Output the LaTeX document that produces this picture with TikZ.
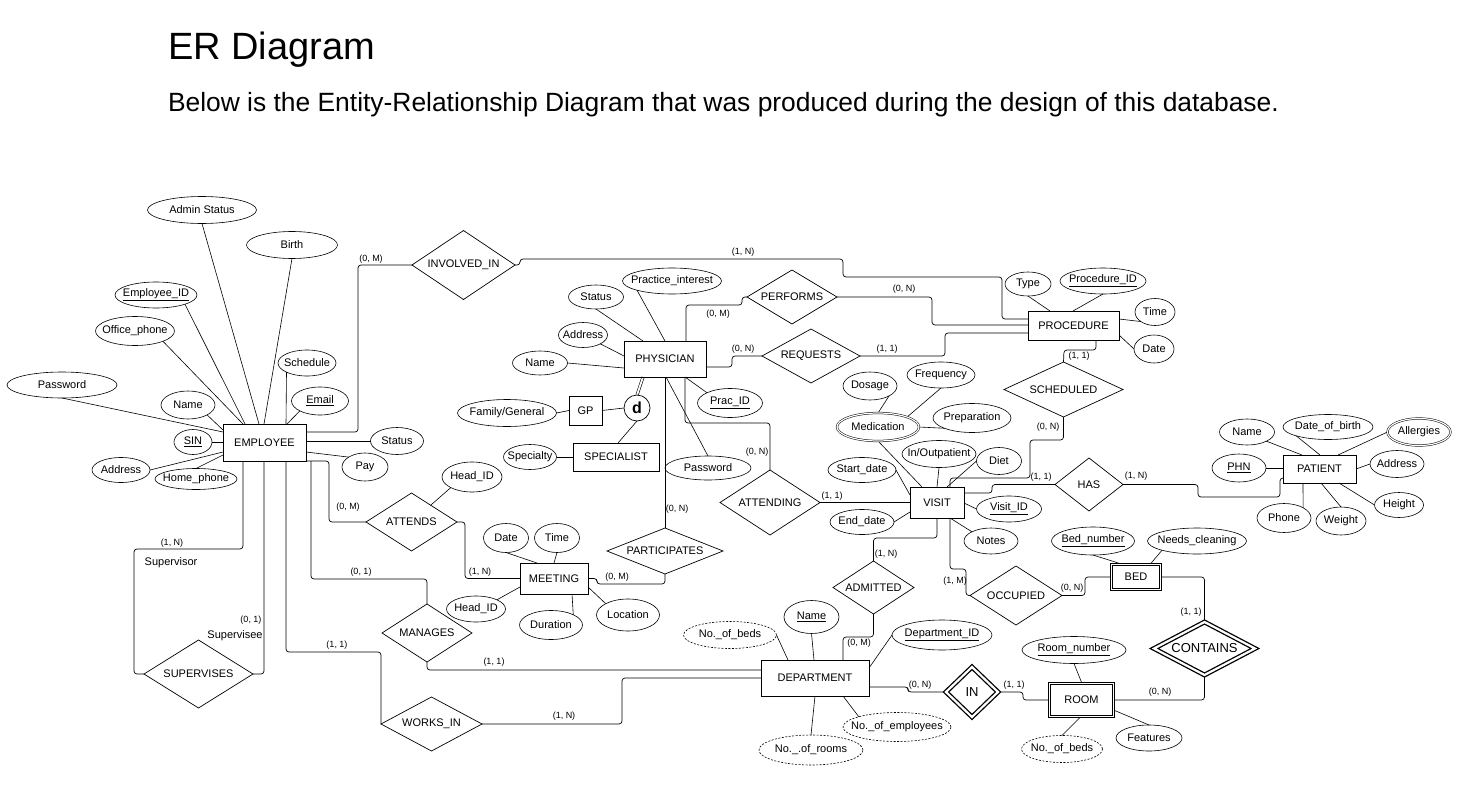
\documentclass[tikz,border=0pt]{standalone}
\usepackage{fontspec}
\setmainfont{Liberation Sans}
\usetikzlibrary{shapes.geometric,backgrounds}

\newcommand{\labelfont}{\fontsize{11}{13}\selectfont}
\newcommand{\cardfont}{\fontsize{9}{11}\selectfont}
\newcommand{\bigfont}{\fontsize{13}{15}\selectfont}
\tikzset{wh/.style 2 args={minimum width=#1,minimum height=#2}}

\begin{document}
\begin{tikzpicture}[x=1pt, y=-1pt, every node/.style={outer sep=0pt}]
    \tikzstyle entity=[draw, line width=0.8pt, inner sep=1pt, font=\labelfont]
    \tikzstyle weakentity=[draw, line width=1pt, double, double distance=1.5pt, inner sep=1pt, font=\labelfont]
    \tikzstyle attribute=[ellipse, draw, line width=0.6pt, inner sep=0pt, font=\labelfont,
      execute at begin node={\hbox to 0pt\bgroup\hss}, execute at end node={\hss\egroup}]
    \tikzstyle multivalued=[attribute, double, double distance=1.2pt, line width=0.5pt]
    \tikzstyle derived=[attribute, dash pattern=on 2pt off 1.5pt]
    \tikzstyle relationship=[diamond, draw, line width=0.7pt, inner sep=0pt, shape aspect=2.4, font=\labelfont]
    \tikzstyle identifying=[relationship, double, double distance=2.2pt, line width=1.3pt, font=\bigfont]
    \tikzstyle conn=[line width=0.7pt, rounded corners=3pt]
    \tikzstyle attrline=[line width=0.6pt]
    \tikzstyle card=[inner sep=0pt, font=\cardfont]
    \tikzstyle role=[inner sep=0pt, font=\labelfont]

    \useasboundingbox (0,0) rectangle (1460,800);

    \node[anchor=base west, inner sep=0pt, font=\fontsize{38}{44}\selectfont] (title) at (168,60) {ER Diagram};
    \node[anchor=base west, inner sep=0pt, font=\fontsize{26.4}{30}\selectfont] (subtitle) at (168,111)
      {Below is the Entity-Relationship Diagram that was produced during the design of this database.};

    % entities
    \node[entity, wh={83}{37}] (employee) at (264.5,442.5) {EMPLOYEE};
    \node[entity, wh={82}{36}] (physician) at (665,359) {PHYSICIAN};
    \node[entity, wh={91}{29}] (procedure) at (1073.5,325.5) {PROCEDURE};
    \node[entity, wh={54}{31}] (visit) at (937,502.5) {VISIT};
    \node[entity, wh={73}{28}] (patient) at (1319.5,469) {PATIENT};
    \node[entity, wh={68}{31}] (meeting) at (554,578.5) {MEETING};
    \node[entity, wh={108}{36}] (department) at (815,678) {DEPARTMENT};
    \node[entity, wh={33}{29}] (gp) at (585.5,410.5) {GP};
    \node[entity, wh={86}{28}] (specialist) at (616,457) {SPECIALIST};
    \node[weakentity, wh={49}{25}] (bed) at (1136,577) {BED};
    \node[weakentity, wh={64}{33}] (room) at (1081.5,700) {ROOM};
    \node[circle, draw, line width=0.7pt, minimum size=26, inner sep=0pt,
      font=\bfseries\fontsize{16}{18}\selectfont] (disj) at (637,408) {d};

    % relationships
    \node[relationship, wh={103}{69}] (involved) at (463.5,265) {INVOLVED\_IN};
    \node[relationship, wh={90}{54}] (performs) at (792,297) {PERFORMS};
    \node[relationship, wh={98}{54}] (requests) at (811,356) {REQUESTS};
    \node[relationship, wh={119}{55}] (scheduled) at (1063.5,389.5) {SCHEDULED};
    \node[relationship, wh={100}{65}] (attending) at (770,502.5) {ATTENDING};
    \node[relationship, wh={68}{53}] (has) at (1089,484.5) {HAS};
    \node[relationship, wh={91}{58}] (attends) at (411.5,522) {ATTENDS};
    \node[relationship, wh={116}{46}] (participates) at (665,551) {PARTICIPATES};
    \node[relationship, wh={90}{58}] (manages) at (427,633) {MANAGES};
    \node[relationship, wh={101}{54}] (works) at (431.5,724) {WORKS\_IN};
    \node[relationship, wh={109}{68}] (supervises) at (198.5,674) {SUPERVISES};
    \node[relationship, wh={81}{53}] (admitted) at (873.5,587.5) {ADMITTED};
    \node[relationship, wh={92}{59}] (occupied) at (1016,595.5) {OCCUPIED};
    \node[identifying, wh={52}{50}] (inroom) at (972,692) {IN};
    \node[identifying, wh={101}{53}] (contains) at (1204.5,648.5) {CONTAINS};

    % employee attributes
    \node[attribute, wh={109}{27}] (admin) at (202,210) {Admin Status};
    \node[attribute, wh={91}{27}] (birth) at (292,245) {Birth};
    \node[attribute, wh={82}{26}] (empid) at (156,295) {\underline{Employee\_ID}};
    \node[attribute, wh={79}{29}] (officephone) at (135,331) {Office\_phone};
    \node[attribute, wh={58}{26}] (schedule) at (307,363) {Schedule};
    \node[attribute, wh={110}{26}] (password) at (62,385) {Password};
    \node[attribute, wh={54}{28}] (ename) at (188,405) {Name};
    \node[attribute, wh={57}{28}] (email) at (320,401) {\underline{Email}};
    \node[attribute, wh={38}{25}] (sin) at (193,442) {\underline{SIN}};
    \node[attribute, wh={58}{25}] (eaddress) at (121,470) {Address};
    \node[attribute, wh={82}{21}] (homephone) at (196,479) {Home\_phone};
    \node[attribute, wh={53}{27}] (estatus) at (397,441) {Status};
    \node[attribute, wh={46}{28}] (pay) at (365,467) {Pay};

    % physician attributes
    \node[attribute, wh={99}{26}] (practice) at (672,281) {Practice\_interest};
    \node[attribute, wh={55}{24}] (pstatus) at (596,297) {Status};
    \node[attribute, wh={49}{25}] (paddress) at (583,335) {Address};
    \node[attribute, wh={55}{24}] (pname) at (540,363) {Name};
    \node[attribute, wh={65}{29}] (pracid) at (730,403) {\underline{Prac\_ID}};
    \node[attribute, wh={86}{24}] (ppassword) at (708,468) {Password};
    \node[attribute, wh={99}{27}] (famgen) at (507,413) {Family/General};
    \node[attribute, wh={53}{25}] (specialty) at (530,457) {Specialty};

    % procedure attributes
    \node[attribute, wh={46}{24}] (ptype) at (1028,284) {Type};
    \node[attribute, wh={86}{26}] (procid) at (1103,281) {\underline{Procedure\_ID}};
    \node[attribute, wh={40}{27}] (ptime) at (1155,312) {Time};
    \node[attribute, wh={40}{28}] (pdate) at (1154,349) {Date};

    % visit attributes
    \node[multivalued, wh={82}{28}] (medication) at (878,427) {Medication};
    \node[attribute, wh={54}{28}] (dosage) at (870,386) {Dosage};
    \node[attribute, wh={68}{26}] (frequency) at (941,375) {Frequency};
    \node[attribute, wh={78}{29}] (preparation) at (972,418) {Preparation};
    \node[attribute, wh={74}{27}] (inout) at (939,454) {In/Outpatient};
    \node[attribute, wh={45}{27}] (diet) at (999,461) {Diet};
    \node[attribute, wh={68}{25}] (startdate) at (862,470) {Start\_date};
    \node[attribute, wh={64}{25}] (enddate) at (862,522) {End\_date};
    \node[attribute, wh={65}{26}] (visitid) at (1009,509) {\underline{Visit\_ID}};
    \node[attribute, wh={54}{26}] (notes) at (991,541) {Notes};

    % meeting attributes
    \node[attribute, wh={60}{30}] (ahead) at (472,477) {Head\_ID};
    \node[attribute, wh={45}{29}] (mdate) at (506,538) {Date};
    \node[attribute, wh={45}{29}] (mtime) at (557,538) {Time};
    \node[attribute, wh={59}{26}] (mhead) at (476,609) {Head\_ID};
    \node[attribute, wh={63}{29}] (duration) at (551,625) {Duration};
    \node[attribute, wh={63}{32}] (location) at (628,615) {Location};

    % department attributes
    \node[attribute, wh={55}{33}] (dname) at (811.5,617) {\underline{Name}};
    \node[derived, wh={93}{27}] (dbeds) at (730,635) {No.\_of\_beds};
    \node[attribute, wh={100}{30}] (deptid) at (942,635) {\underline{Department\_ID}};
    \node[derived, wh={108}{29}] (demployees) at (897,727) {No.\_of\_employees};
    \node[derived, wh={104}{30}] (drooms) at (811,750) {No.\_.of\_rooms};

    % bed and room attributes
    \node[attribute, wh={83}{28}] (bednum) at (1093,541) {\underline{Bed\_number}};
    \node[attribute, wh={99}{26}] (needsclean) at (1197,541) {Needs\_cleaning};
    \node[attribute, wh={104}{27}] (roomnum) at (1074,650) {\underline{Room\_number}};
    \node[derived, wh={81}{27}] (rbeds) at (1062,749) {No.\_of\_beds};
    \node[attribute, wh={66}{26}] (features) at (1149,738) {Features};

    % patient attributes
    \node[attribute, wh={55}{26}] (ptname) at (1247,432) {Name};
    \node[attribute, wh={90}{25}] (dob) at (1328,427) {Date\_of\_birth};
    \node[multivalued, wh={63}{27}] (allergies) at (1419,432) {Allergies};
    \node[attribute, wh={54}{28}] (phn) at (1239,468) {\underline{PHN}};
    \node[attribute, wh={54}{27}] (ptaddress) at (1397,464) {Address};
    \node[attribute, wh={54}{29}] (phone) at (1284,518) {Phone};
    \node[attribute, wh={50}{28}] (weight) at (1341,521) {Weight};
    \node[attribute, wh={49}{25}] (height) at (1399,505) {Height};

    % cardinalities
    \node[card] (c1) at (371,259) {(0, M)};
    \node[card] (c2) at (743,252) {(1, N)};
    \node[card] (c3) at (718,314) {(0, M)};
    \node[card] (c4) at (904,289) {(0, N)};
    \node[card] (c5) at (743,349) {(0, N)};
    \node[card] (c6) at (887,349) {(1, 1)};
    \node[card] (c7) at (1079,356) {(1, 1)};
    \node[card] (c8) at (1048,427) {(0, N)};
    \node[card] (c9) at (757,452) {(0, N)};
    \node[card] (c10) at (832,496) {(1, 1)};
    \node[card] (c11) at (677,509) {(0, N)};
    \node[card] (c12) at (617,577) {(0, M)};
    \node[card] (c13) at (480,572) {(1, N)};
    \node[card] (c14) at (348,507) {(0, M)};
    \node[card] (c15) at (361,572) {(0, 1)};
    \node[card] (c16) at (494,662) {(1, 1)};
    \node[card] (c17) at (337,645) {(1, 1)};
    \node[card] (c18) at (564,716) {(1, N)};
    \node[card] (c19) at (172,543) {(1, N)};
    \node[card] (c20) at (251,620) {(0, 1)};
    \node[card] (c21) at (1041,477) {(1, 1)};
    \node[card] (c22) at (1136,476) {(1, N)};
    \node[card] (c23) at (886,554) {(1, N)};
    \node[card] (c24) at (859,643) {(0, M)};
    \node[card] (c25) at (955,581) {(1, M)};
    \node[card] (c26) at (1072,588) {(0, N)};
    \node[card] (c27) at (1191,612) {(1, 1)};
    \node[card] (c28) at (1160,692) {(0, N)};
    \node[card] (c29) at (920,685) {(0, N)};
    \node[card] (c30) at (1014,685) {(1, 1)};
    \node[role] (supervisor) at (171,563) {Supervisor};
    \node[role] (supervisee) at (235,636) {Supervisee};

    \begin{pgfonlayer}{background}
    \fill[white] (0,0) rectangle (1460,800);
    % relationship connectors
    \draw[conn] (employee.east |- 0,432) -- (358,432) -- (358,265) -- (involved.west);
    \draw[conn] (involved.east) -- (520,265) -- (520,259) -- (843,259) -- (843,277) -- (1002,277) -- (1002,319) -- (procedure.west |- 0,319);
    \draw[conn] (employee.south east) -- (329,461) -- (329,522) -- (attends.west);
    \draw[conn] (employee.south -| 311,0) -- (311,579) -- (427,579) -- (manages.north);
    \draw[conn] (employee.south -| 286,0) -- (286,652) -- (381,652) -- (works.west);
    \draw[conn] (employee.south -| 243,0) -- (243,549) -- (134,549) -- (134,674) -- (supervises.west);
    \draw[conn] (employee.south -| 264,0) -- (264,674) -- (supervises.east);
    \draw[conn] (physician.north -| 686,0) -- (686,305) -- (742,305) -- (742,297) -- (performs.west);
    \draw[conn] (performs.east) -- (932,297) -- (932,325) -- (procedure.west |- 0,325);
    \draw[conn] (physician.east |- 0,367) -- (732,367) -- (732,356) -- (requests.west);
    \draw[conn] (requests.east) -- (945,356) -- (945,333) -- (procedure.west |- 0,333);
    \draw[conn] (procedure.south -| 1096,0) -- (1096,350) -- (1064,350) -- (scheduled.north);
    \draw[conn] (scheduled.south) -- (1063.5,440) -- (1030,440) -- (1030,478) -- (950,478) -- (visit.north -| 950,0);
    \draw[conn] (physician.south -| 685,0) -- (685,423) -- (770,423) -- (attending.north);
    \draw[conn] (physician.south) -- (participates.north);
    \draw[conn] (attending.east) -- (visit.west);
    \draw[conn] (attends.east) -- (465,522) -- (465,578.5) -- (meeting.west);
    \draw[conn] (meeting.east) -- (597,578.5) -- (597,584) -- (665,584) -- (participates.south);
    \draw[conn] (manages.south) -- (427,670) -- (department.west |- 0,670);
    \draw[conn] (works.east) -- (622,724) -- (622,678) -- (department.west);
    \draw[conn] (visit.east |- 0,493) -- (992,493) -- (992,484.5) -- (has.west);
    \draw[conn] (has.east) -- (1198,484.5) -- (1198,497) -- (1280,497) -- (1280,478) -- (patient.west |- 0,478);
    \draw[conn] (visit.south) -- (937,538) -- (873.5,538) -- (admitted.north);
    \draw[conn] (admitted.south) -- (873.5,637) -- (843,637) -- (department.north -| 843,0);
    \draw[conn] (visit.south -| 950,0) -- (950,569) -- (966,569) -- (966,595.5) -- (occupied.west);
    \draw[conn] (occupied.east) -- (1085,595.5) -- (1085,577) -- (bed.west);
    \draw[conn] (bed.east) -- (1204.5,577) -- (contains.north);
    \draw[conn] (contains.south) -- (1204.5,700) -- (room.east);
    \draw[conn] (department.east |- 0,687) -- (908,687) -- (908,692) -- (inroom.west);
    \draw[conn] (inroom.east) -- (1023,692) -- (1023,700) -- (room.west);

    % attribute lines
    \draw[attrline] (admin.south) -- (employee.north -| 259,0);
    \draw[attrline] (birth.south) -- (employee.north -| 264,0);
    \draw[attrline] (empid.south east) -- (employee.north -| 245,0);
    \draw[attrline] (officephone.south east) -- (employee.north -| 243,0);
    \draw[attrline] (schedule.south west) -- (employee.north -| 286,0);
    \draw[attrline] (password.south) -- (employee.west |- 0,432);
    \draw[attrline] (ename.south east) -- (employee.west |- 0,430);
    \draw[attrline] (email.south west) -- (employee.north -| 287,0);
    \draw[attrline] (sin.east) -- (sin.east -| employee.west);
    \draw[attrline] (eaddress.east) -- (employee.west |- 0,452);
    \draw[attrline] (homephone.north) -- (employee.west |- 0,455);
    \draw[attrline] (estatus.west) -- (estatus.west -| employee.east);
    \draw[attrline] (pay.north west) -- (employee.east |- 0,452);

    \draw[attrline] (practice.south west) -- (physician.north);
    \draw[attrline] (pstatus.south) -- (physician.north -| 643,0);
    \draw[attrline] (paddress.south east) -- (physician.west |- 0,356);
    \draw[attrline] (pname.east) -- (physician.west |- 0,368);
    \draw[attrline] (pracid.north west) -- (physician.south -| 685,0);
    \draw[attrline] (ppassword.north) -- (physician.south -| 666,0);
    \draw[attrline, double, double distance=1.8pt] (physician.south -| 643,0) -- (disj.north);
    \draw[attrline] (gp.east) -- (disj.west);
    \draw[attrline] (famgen.east) -- (gp.west);
    \draw[attrline] (disj.south) -- (specialist.north -| 618,0);
    \draw[attrline] (specialty.east) -- (specialist.west);

    \draw[attrline] (ptype.south) -- (procedure.north -| 1050,0);
    \draw[attrline] (procid.south) -- (procedure.north -| 1073,0);
    \draw[attrline] (ptime.south west) -- (procedure.east |- 0,319);
    \draw[attrline] (pdate.west) -- (procedure.east |- 0,335);

    \draw[attrline] (medication.south) -- (visit.north -| 922,0);
    \draw[attrline] (dosage.south east) -- (medication.north);
    \draw[attrline] (frequency.south) -- (medication.north east);
    \draw[attrline] (preparation.south west) -- (medication.east);
    \draw[attrline] (inout.south) -- (visit.north -| 937,0);
    \draw[attrline] (diet.west) -- (visit.north -| 947,0);
    \draw[attrline] (startdate.east) -- (visit.west |- 0,495);
    \draw[attrline] (enddate.east) -- (visit.west |- 0,512);
    \draw[attrline] (visitid.west) -- (visit.east |- 0,503);
    \draw[attrline] (notes.north west) -- (visit.south -| 950,0);

    \draw[attrline] (ahead.south west) -- (attends);
    \draw[attrline] (mdate.south) -- (meeting.north -| 537,0);
    \draw[attrline] (mtime.south) -- (meeting.north -| 554,0);
    \draw[attrline] (mhead.north east) -- (meeting.west |- 0,587);
    \draw[attrline] (duration.north east) -- (meeting.south -| 572,0);
    \draw[attrline] (location.north west) -- (meeting.east |- 0,587);

    \draw[attrline] (dname.south) -- (department.north -| 814,0);
    \draw[attrline] (dbeds.east) -- (department.north -| 788,0);
    \draw[attrline] (deptid.west) -- (department.east |- 0,668);
    \draw[attrline] (demployees.north west) -- (department.south -| 843,0);
    \draw[attrline] (drooms.north) -- (department.south -| 815,0);

    \draw[attrline] (bednum.south) -- (bed.north -| 1123,0);
    \draw[attrline] (needsclean.south west) -- (bed.north -| 1150,0);
    \draw[attrline] (roomnum.south) -- (room.north -| 1082,0);
    \draw[attrline] (rbeds.north) -- (room.south -| 1081,0);
    \draw[attrline] (features.north) -- (room.east |- 0,710);

    \draw[attrline] (ptname.south east) -- (patient.north -| 1302,0);
    \draw[attrline] (dob.south west) -- (patient.north -| 1320,0);
    \draw[attrline] (allergies.west) -- (patient.north -| 1338,0);
    \draw[attrline] (phn.east) -- (phn.east -| patient.west);
    \draw[attrline] (ptaddress.west) -- (patient.east |- 0,469);
    \draw[attrline] (phone.north east) -- (patient.south -| 1303,0);
    \draw[attrline] (weight.north) -- (patient.south -| 1321,0);
    \draw[attrline] (height.west) -- (patient.south -| 1339,0);
    \end{pgfonlayer}
\end{tikzpicture}
\end{document}
